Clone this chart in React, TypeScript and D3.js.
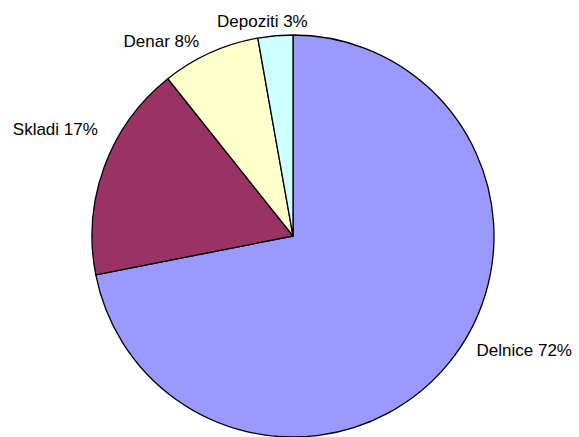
import React from "react";
import * as d3 from "d3";

const categories = ["Delnice", "Skladi", "Denar", "Depoziti"];
const values = [71.9, 17.4, 7.9, 2.8];
const labelPercents = ["72%", "17%", "8%", "3%"];
const colors = ["#9999FF", "#993366", "#FFFFCC", "#CCFFFF"];
// label nudges relative to the arc's outer point at mid-angle
const labelNudges: [number, number][] = [
  [76, -13],
  [-49, -37],
  [-49, -11],
  [-13, -14],
];

const W = 579;
const H = 437;
const cx = 293;
const cy = 236;
const R = 201;

export default function App() {
  const pie = d3
    .pie<number>()
    .sort(null)
    .value((d) => d)
    .startAngle(0)
    .endAngle(2 * Math.PI);
  const arcs = pie(values);
  const arc = d3.arc<d3.PieArcDatum<number>>().innerRadius(0).outerRadius(R);

  return (
    <svg
      width={W}
      height={H}
      style={{ position: "absolute", left: 0, top: 0, background: "#fff" }}
      fontFamily="'Liberation Sans', Arial, sans-serif"
    >
      <g transform={`translate(${cx},${cy})`}>
        {arcs.map((a, i) => (
          <path
            key={categories[i]}
            d={arc(a) || ""}
            fill={colors[i]}
            stroke="#000"
            strokeWidth={1.3}
            strokeLinejoin="round"
          />
        ))}
        {arcs.map((a, i) => {
          const mid = (a.startAngle + a.endAngle) / 2;
          const px = R * Math.sin(mid) + labelNudges[i][0];
          const py = -R * Math.cos(mid) + labelNudges[i][1];
          return (
            <text
              key={"l" + i}
              x={px}
              y={py}
              textAnchor="middle"
              dominantBaseline="central"
              fontSize={17}
              fill="#000"
            >
              {`${categories[i]} ${labelPercents[i]}`}
            </text>
          );
        })}
      </g>
    </svg>
  );
}
